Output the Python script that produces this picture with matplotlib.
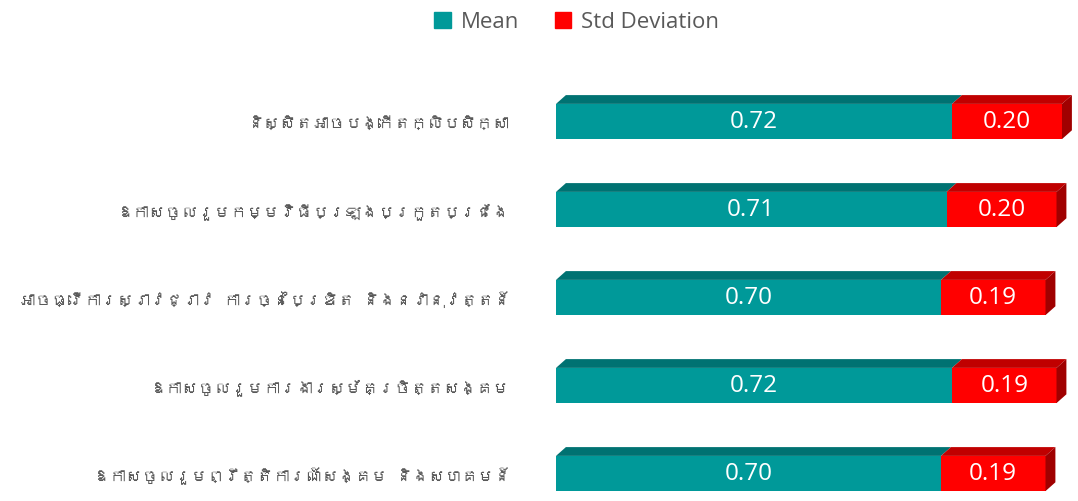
import matplotlib
matplotlib.use("Agg")
import matplotlib.pyplot as plt
from matplotlib.patches import Polygon, Patch
from matplotlib import font_manager
from matplotlib.ft2font import FT2Font

categories = ["និស្សិតអាចបង្កើតក្លិបសិក្សា",
              "ឱកាសចូលរួមកម្មវិធីប្រឡងប្រកួតប្រជែង",
              "អាចធ្វើការស្រាវជ្រាវ ការច្នៃប្រឌិត និងនវានុវត្តន៍",
              "ឱកាសចូលរួមការងារស្ម័គ្រចិត្តសង្គម",
              "ឱកាសចូលរួមព្រឹត្តិការណ៍សង្គម និងសហគមន៍"]
mean = [0.72, 0.71, 0.70, 0.72, 0.70]
std = [0.20, 0.20, 0.19, 0.19, 0.19]
series = ["Mean", "Std Deviation"]

# look for any installed font that has Khmer glyphs
khmer = None
for f in font_manager.fontManager.ttflist:
    try:
        if 0x1780 in FT2Font(f.fname).get_charmap():
            khmer = f.name
            break
    except Exception:
        pass
label_family = [khmer, "DejaVu Sans"] if khmer else ["DejaVu Sans"]

teal, teal_top = "#009999", "#007272"
red, red_top, red_side = "#ff0000", "#c00000", "#a00000"
grey = "#595959"

fig = plt.figure(figsize=(10.78, 5.02), dpi=100)
ax = fig.add_axes([556/1078, 0, 522/1078, 1 - 78.5/502])

y = list(range(len(categories)))
h = 0.4
dx, dy = 0.018, 0.10   # depth of the fake 3d faces

ax.barh(y, mean, height=h, color=teal)
ax.barh(y, std, left=mean, height=h, color=red)

for i, (m, s) in enumerate(zip(mean, std)):
    top = i - h/2
    ax.add_patch(Polygon([(0, top), (m, top), (m+dx, top-dy), (dx, top-dy)],
                         closed=True, color=teal_top, lw=0))
    ax.add_patch(Polygon([(m, top), (m+s, top), (m+s+dx, top-dy), (m+dx, top-dy)],
                         closed=True, color=red_top, lw=0))
    ax.add_patch(Polygon([(m+s, top), (m+s+dx, top-dy), (m+s+dx, i+h/2-dy), (m+s, i+h/2)],
                         closed=True, color=red_side, lw=0))
    ax.text(m/2, i, f"{m:.2f}", ha="center", va="center", color="white",
            fontsize=17.5, family="Open Sans")
    ax.text(m + s/2, i, f"{s:.2f}", ha="center", va="center", color="white",
            fontsize=17.5, family="Open Sans")

ax.set_xlim(0, 522/550)
ax.set_ylim(4.3125, -0.5)
ax.set_yticks(y)
ax.set_yticklabels(categories, family=label_family, fontsize=11.8, color=grey)
ax.tick_params(axis="y", length=0, pad=33)
ax.set_xticks([])
for sp in ax.spines.values():
    sp.set_visible(False)

handles = [Patch(color=teal, label=series[0]), Patch(color=red, label=series[1])]
fig.legend(handles=handles, loc="upper center", bbox_to_anchor=(0.535, 1.015), ncol=2,
           frameon=False, handlelength=0.75, handleheight=0.75, handletextpad=0.45,
           columnspacing=1.6, prop={"family": "Open Sans", "size": 16}, labelcolor=grey)

fig.savefig("out.png", dpi=100)
